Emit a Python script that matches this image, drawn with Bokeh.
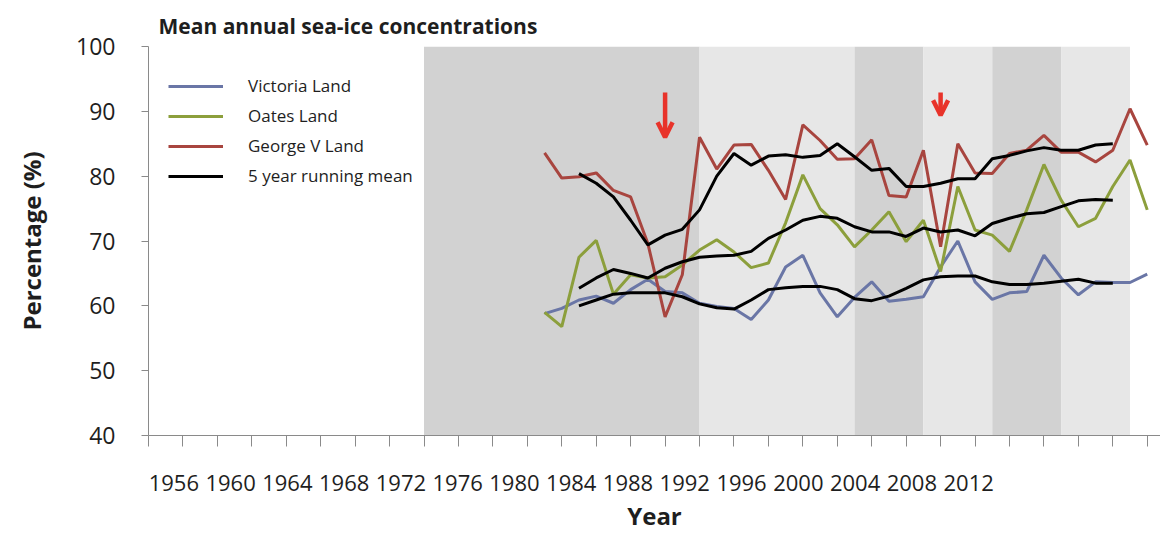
from bokeh.plotting import figure
from bokeh.models import (ColumnDataSource, FixedTicker, CustomJSTickFormatter, Legend,
                          LegendItem, Arrow, OpenHead, Range1d)
from bokeh.embed import file_html
from bokeh.resources import INLINE

# ---------------- data ----------------
years = list(range(1979, 2015))
victoria = [58.8, 59.6, 60.9, 61.5, 60.4, 62.5, 64.1, 62.2, 62.0, 60.4, 59.9, 59.6,
            57.9, 60.9, 66.0, 67.8, 62.0, 58.3, 61.3, 63.7, 60.7, 61.0, 61.4, 66.0,
            70.0, 63.7, 61.0, 62.0, 62.2, 67.8, 64.3, 61.7, 63.7, 63.6, 63.6, 64.9]
oates = [59.0, 56.8, 67.5, 70.1, 61.8, 64.8, 64.3, 64.5, 66.3, 68.6, 70.2, 68.3,
         65.9, 66.6, 72.8, 80.2, 75.0, 72.5, 69.1, 71.7, 74.5, 69.9, 73.2, 65.3,
         78.4, 71.7, 70.9, 68.4, 74.8, 81.8, 76.3, 72.2, 73.5, 78.4, 82.5, 74.8]
george = [83.6, 79.7, 79.9, 80.5, 77.8, 76.8, 69.6, 58.3, 64.8, 86.0, 81.1, 84.8,
          84.9, 80.9, 76.4, 87.9, 85.5, 82.6, 82.7, 85.6, 77.0, 76.8, 84.0, 69.1,
          85.0, 80.5, 80.4, 83.5, 84.0, 86.3, 83.7, 83.7, 82.2, 84.0, 90.4, 84.8]

rm_years = list(range(1981, 2013))
rm_victoria = [60.0, 60.9, 61.8, 62.0, 62.0, 62.0, 61.4, 60.3, 59.7, 59.5, 60.9, 62.5,
               62.8, 63.0, 63.0, 62.5, 61.1, 60.8, 61.5, 62.7, 64.0, 64.5, 64.6, 64.6,
               63.7, 63.3, 63.3, 63.5, 63.8, 64.1, 63.5, 63.5]
rm_oates = [62.7, 64.3, 65.6, 65.0, 64.3, 65.8, 66.8, 67.5, 67.7, 67.8, 68.4, 70.4,
            71.7, 73.2, 73.8, 73.5, 72.2, 71.4, 71.4, 70.7, 72.0, 71.4, 71.7, 70.8,
            72.7, 73.5, 74.2, 74.4, 75.3, 76.2, 76.4, 76.3]
rm_george = [80.4, 78.9, 76.8, 73.2, 69.4, 70.9, 71.8, 74.8, 80.0, 83.5, 81.7, 83.1,
             83.3, 82.9, 83.2, 85.0, 83.0, 80.9, 81.2, 78.4, 78.4, 78.9, 79.6, 79.6,
             82.7, 83.2, 83.9, 84.4, 84.0, 84.0, 84.8, 85.0]

band_start = [1972, 1988, 1997, 2001, 2005, 2009]
band_end = [1988, 1997, 2001, 2005, 2009, 2013]
band_shade = ["dark", "light", "dark", "light", "dark", "light"]

arrow_years = [1986, 2002]
arrow_top = [92.9, 92.9]
arrow_tip = [86.0, 89.4]

x_tick_labels = ["1956", "1960", "1964", "1968", "1972", "1976", "1980", "1984",
                 "1988", "1992", "1996", "2000", "2004", "2008", "2012"]
y_ticks = [40, 50, 60, 70, 80, 90, 100]

# ---------------- styling ----------------
FONT = "Open Sans"
C_VIC = "#6a76a6"
C_OAT = "#8c9f3c"
C_GEO = "#a8453f"
C_BAND = {"dark": "#d2d2d2", "light": "#e7e7e7"}
AXIS_C = "#8a8a8a"
TXT = "#1e1e1e"

p = figure(width=1160, height=534, output_backend="svg", toolbar_location=None,
           x_range=Range1d(1956, 2014.77), y_range=Range1d(40, 100),
           min_border_left=148, min_border_right=0, min_border_top=46,
           min_border_bottom=98)
p.outline_line_color = None
p.grid.visible = False
p.background_fill_color = "white"
p.border_fill_color = "white"

# shaded bands
p.quad(left=band_start, right=band_end, bottom=p.y_range.start, top=p.y_range.end,
       fill_color=[C_BAND[s] for s in band_shade], line_color=None)

# series
r_vic = p.line(years, victoria, line_color=C_VIC, line_width=3)
r_oat = p.line(years, oates, line_color=C_OAT, line_width=3)
r_geo = p.line(years, george, line_color=C_GEO, line_width=3)
r_rm = None
for rm in (rm_victoria, rm_oates, rm_george):
    r = p.line(rm_years, rm, line_color="black", line_width=3)
    if r_rm is None:
        r_rm = r

# arrows
asrc = ColumnDataSource(dict(x=arrow_years, y0=arrow_top, y1=arrow_tip))
p.add_layout(Arrow(end=OpenHead(size=15, line_color="#e8332a", line_width=4.5),
                   x_start="x", y_start="y0", x_end="x", y_end="y1",
                   line_color="#e8332a", line_width=4.5, source=asrc))

# x axis: minor ticks every 2 years, labels as in the original figure
n = len(x_tick_labels)
label_pos = [round(1957.47 + i * 3.297, 3) for i in range(n)]
xa = p.xaxis[0]
xa.ticker = FixedTicker(ticks=label_pos, minor_ticks=list(range(1956, 2015, 2)))
xa.formatter = CustomJSTickFormatter(args=dict(labels=x_tick_labels),
                                     code="return labels[index];")
xa.major_tick_line_color = None
xa.major_tick_out = 0
xa.major_tick_in = 0
xa.minor_tick_line_color = AXIS_C
xa.minor_tick_out = 11
xa.minor_tick_in = 0
xa.axis_line_color = AXIS_C
xa.major_label_standoff = 28
xa.major_label_text_font = FONT
xa.major_label_text_font_size = "22px"
xa.major_label_text_color = TXT
xa.axis_label = "Year"
xa.axis_label_text_font = FONT
xa.axis_label_text_font_size = "24px"
xa.axis_label_text_font_style = "bold"
xa.axis_label_text_color = TXT
xa.axis_label_standoff = 5

ya = p.yaxis[0]
ya.ticker = FixedTicker(ticks=y_ticks)
ya.major_tick_out = 7
ya.major_tick_in = 0
ya.minor_tick_line_color = None
ya.major_tick_line_color = AXIS_C
ya.axis_line_color = AXIS_C
ya.major_label_standoff = 26
ya.major_label_text_font = FONT
ya.major_label_text_font_size = "23px"
ya.major_label_text_color = TXT
ya.axis_label = "Percentage (%)"
ya.axis_label_text_font = FONT
ya.axis_label_text_font_size = "24px"
ya.axis_label_text_font_style = "bold"
ya.axis_label_text_color = TXT
ya.axis_label_standoff = 25

# title
p.title.text = "Mean annual sea-ice concentrations"
p.title.text_font = FONT
p.title.text_font_size = "21px"
p.title.text_font_style = "bold"
p.title.text_color = TXT
p.title.align = "left"
p.title.offset = 10
p.title.standoff = 13

# legend
legend = Legend(items=[LegendItem(label="Victoria Land", renderers=[r_vic]),
                       LegendItem(label="Oates Land", renderers=[r_oat]),
                       LegendItem(label="George V Land", renderers=[r_geo]),
                       LegendItem(label="5 year running mean", renderers=[r_rm])],
                location=(20, 248), orientation="vertical",
                border_line_color=None, background_fill_alpha=0,
                padding=0, margin=0, spacing=7,
                glyph_width=55, glyph_height=22, label_height=22,
                label_standoff=25, label_text_font=FONT,
                label_text_font_size="17px", label_text_color=TXT)
p.add_layout(legend, "center")

open("out.html", "w").write(file_html(p, INLINE))
